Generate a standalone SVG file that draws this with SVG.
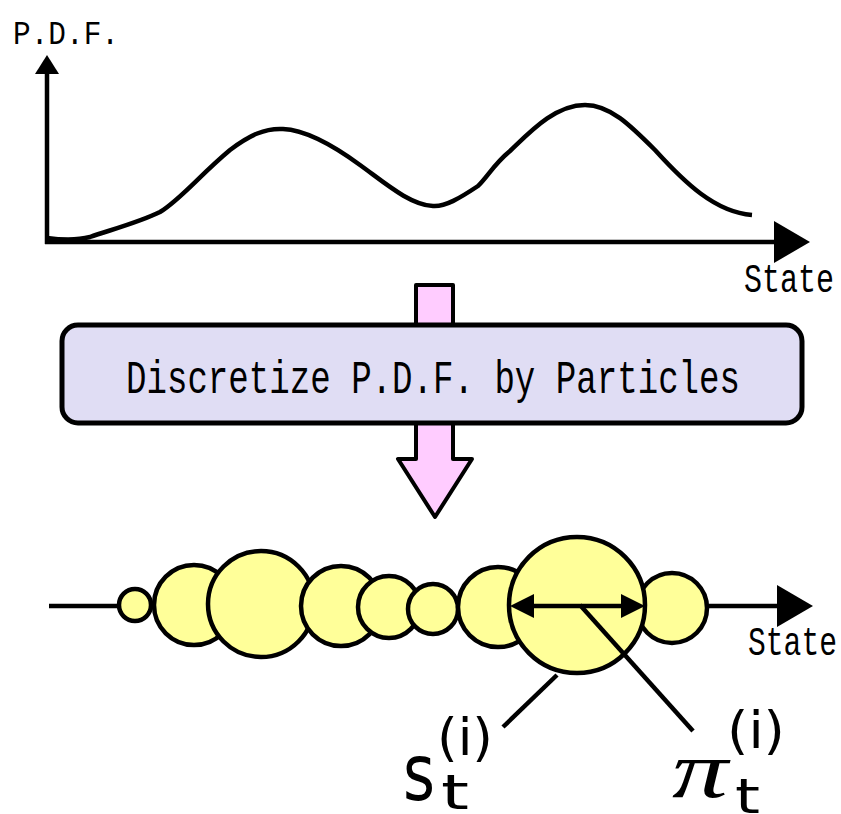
<svg xmlns="http://www.w3.org/2000/svg" width="841" height="814" viewBox="0 0 841 814">
<style>
.ln{fill:none;stroke:#000;stroke-width:4.5;stroke-linecap:butt}
.hd{fill:#000;stroke:none}
.mono{font-family:"Liberation Mono","DejaVu Sans Mono",monospace;fill:#000}
.sans{font-family:"DejaVu Sans","Liberation Sans",sans-serif;fill:#000}
.pt{fill:#ffff99;stroke:#000;stroke-width:4.5}
.pink{fill:#ffccff;stroke:#000;stroke-width:4;stroke-linejoin:round}
</style>
<rect width="841" height="814" fill="#fff"/>
<g id="chart">
<line class="ln" x1="47" y1="244" x2="47" y2="70"/>
<polygon class="hd" points="47,55 35,74 59,74"/>
<line class="ln" x1="45" y1="242" x2="776" y2="242"/>
<polygon class="hd" points="774,221 810,242 774,263"/>
<path class="ln" d="M47,238 C62,240 75,241 90,237 C110,230 140,222 160,212 C180,200 200,175 230,150 C250,135 265,128 283,129 C305,130 330,143 360,165 C385,183 410,205 433,206 C445,207 460,198 478,186 C488,176 495,163 510,151 C530,132 555,105 585,105 C610,105 630,125 655,150 C685,183 715,212 752,215"/>
<text class="mono" x="13" y="44" font-size="33" textLength="106" lengthAdjust="spacingAndGlyphs">P.D.F.</text>
<text class="mono" x="744" y="292" font-size="40" textLength="90" lengthAdjust="spacingAndGlyphs">State</text>
</g>
<g id="connectors">
<rect class="pink" x="416" y="285" width="37" height="45"/>
<polygon class="pink" points="416,418 453,418 453,459 472,459 435,517 398,459 416,459"/>
</g>
<g id="box">
<rect x="62" y="325" width="740" height="98" rx="16" ry="16" fill="#e0ddf4" stroke="#000" stroke-width="5"/>
<text class="mono" x="126" y="393" font-size="47" textLength="614" lengthAdjust="spacingAndGlyphs">Discretize P.D.F. by Particles</text>
</g>
<g id="particles">
<line class="ln" x1="49" y1="606" x2="780" y2="606"/>
<polygon class="hd" points="777,585 813,606 777,627"/>
<circle class="pt" cx="135" cy="605" r="16"/>
<circle class="pt" cx="194" cy="605" r="40"/>
<circle class="pt" cx="261" cy="604" r="53"/>
<circle class="pt" cx="341" cy="606" r="40"/>
<circle class="pt" cx="389" cy="607" r="31"/>
<circle class="pt" cx="433" cy="609" r="25"/>
<circle class="pt" cx="498" cy="607" r="40"/>
<circle class="pt" cx="672" cy="608" r="35"/>
<circle class="pt" cx="577" cy="605" r="68"/>
<line class="ln" x1="530" y1="606" x2="625" y2="606"/>
<polygon class="hd" points="510,606 534,594 534,618"/>
<polygon class="hd" points="645,606 621,594 621,618"/>
<line class="ln" x1="580" y1="605" x2="693" y2="731"/>
<line class="ln" x1="557" y1="675" x2="503" y2="727"/>
<text class="mono" x="748" y="655" font-size="40" textLength="89" lengthAdjust="spacingAndGlyphs">State</text>
</g>
<g id="labels">
<text class="sans" x="403" y="800" font-size="78" textLength="32" lengthAdjust="spacingAndGlyphs">s</text>
<text class="sans" x="437" y="755" font-size="52" textLength="56" lengthAdjust="spacingAndGlyphs">(i)</text>
<text class="sans" x="441" y="809" font-size="48" textLength="28" lengthAdjust="spacingAndGlyphs">t</text>
<text x="672" y="797" font-family="'Liberation Serif','DejaVu Serif',serif" font-style="italic" font-size="80" textLength="56" lengthAdjust="spacingAndGlyphs">π</text>
<text class="sans" x="727" y="748" font-size="52" textLength="58" lengthAdjust="spacingAndGlyphs">(i)</text>
<text class="sans" x="735" y="813" font-size="48" textLength="25" lengthAdjust="spacingAndGlyphs">t</text>
</g>
</svg>
